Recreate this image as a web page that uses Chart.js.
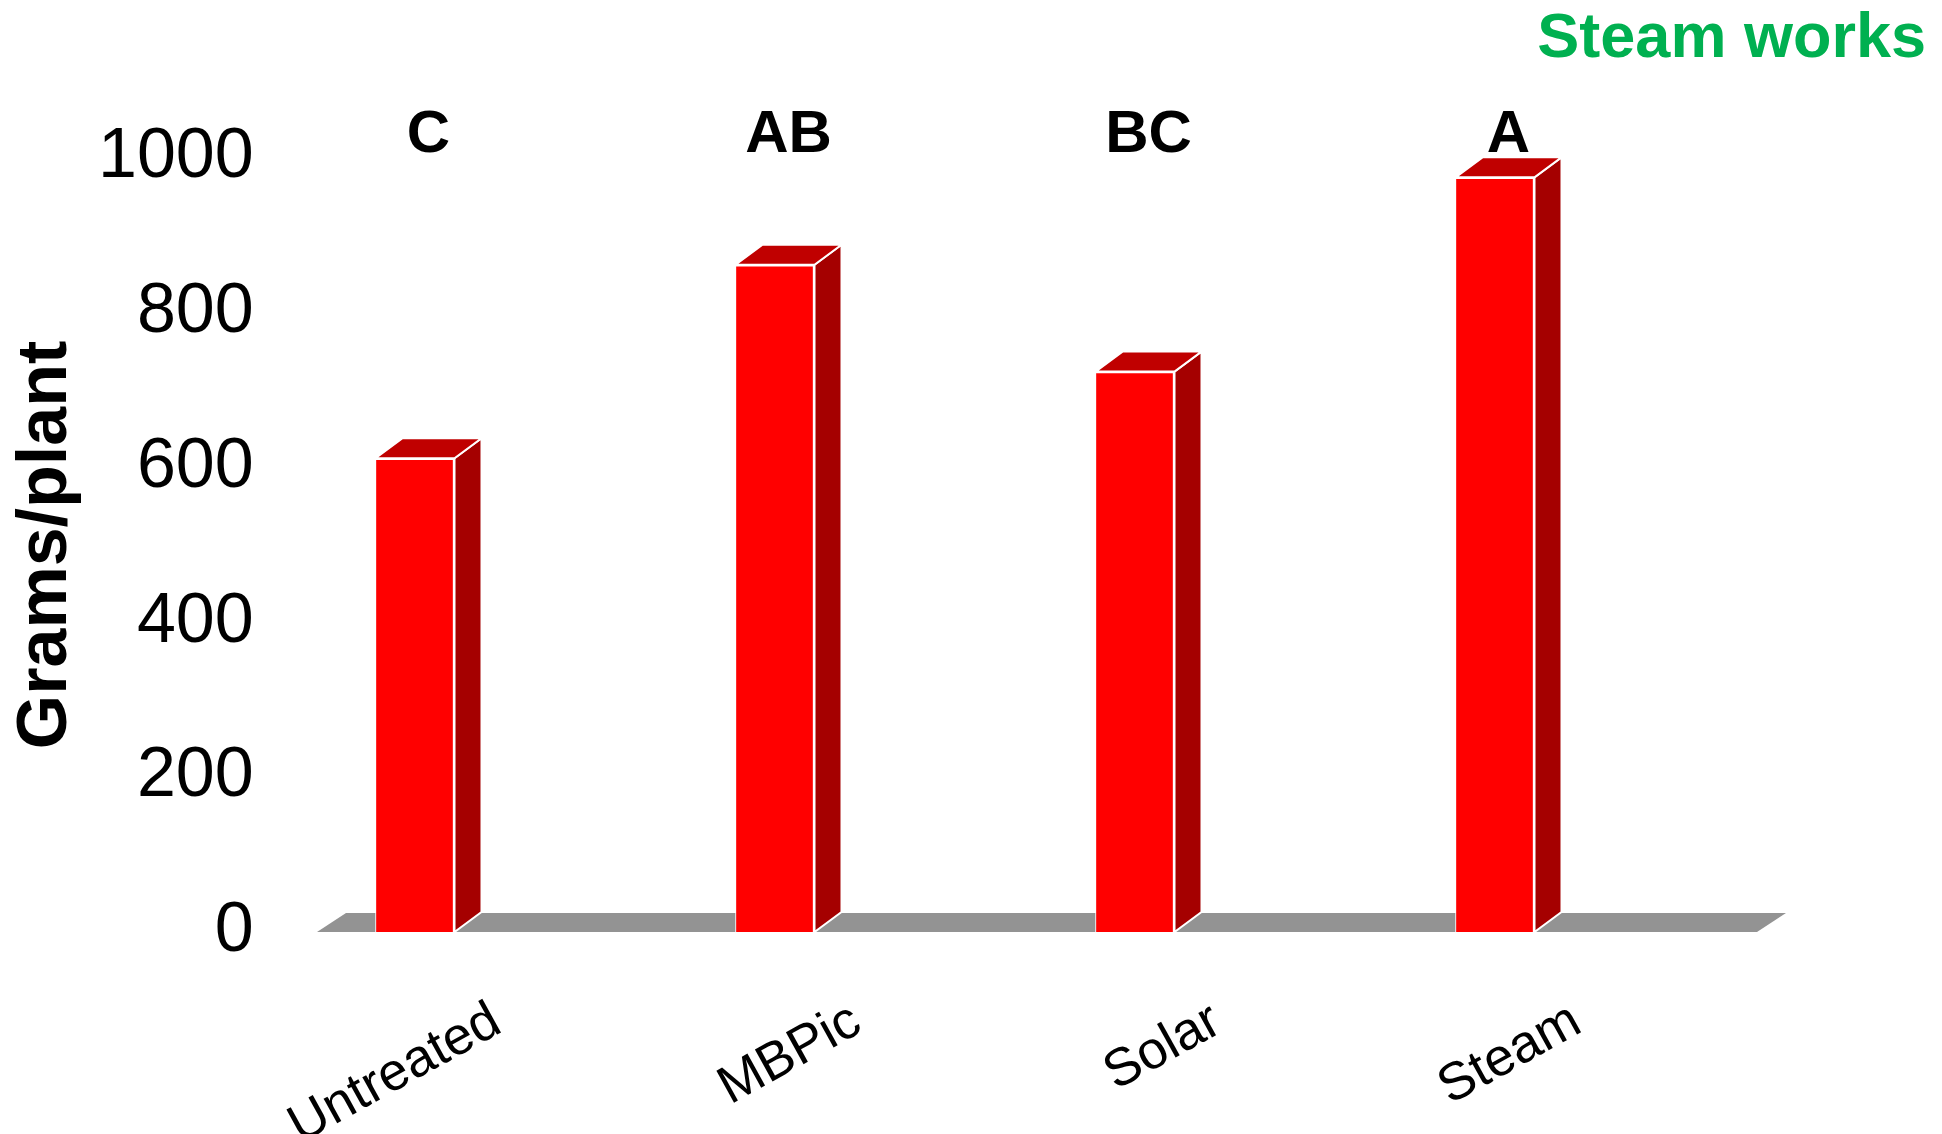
<!DOCTYPE html>
<html>
<head>
<meta charset="utf-8">
<script src="https://cdn.jsdelivr.net/npm/chart.js@4.4.0/dist/chart.umd.min.js"></script>
<style>
  html, body { margin: 0; padding: 0; background: #fff; }
  #wrap { width: 1942px; height: 1134px; }
</style>
</head>
<body>
<div id="wrap"><canvas id="c"></canvas></div>
<script>
// ── data ──
const categories = ['Untreated', 'MBPic', 'Solar', 'Steam'];
const gramsPerPlant = [612, 862, 724, 975];
const letters = ['C', 'AB', 'BC', 'A'];
const yTicks = [0, 200, 400, 600, 800, 1000];

// ── look ──
const FONT = "'Liberation Sans', Arial, sans-serif";
const FRONT = '#FF0000';
const SIDE = '#A50000';
const TOP = '#C00000';
const FLOOR = '#939393';
const DX = 27, DY = 20;            // bar depth
const FLOOR_DX = 29, FLOOR_DY = 19; // floor depth
const SHIFT = 82;                   // floor / labels sit right of the bars

function poly(ctx, pts, fill) {
  ctx.beginPath();
  ctx.moveTo(pts[0][0], pts[0][1]);
  pts.slice(1).forEach(p => ctx.lineTo(p[0], p[1]));
  ctx.closePath();
  ctx.fillStyle = fill;
  ctx.fill();
  ctx.strokeStyle = '#fff';
  ctx.lineWidth = 2;
  ctx.stroke();
}

/** fake 3D: floor, bar sides/tops, letters, green note */
const bar3d = {
  id: 'bar3d',
  beforeDatasetsDraw(chart) {
    const { ctx, chartArea, scales } = chart;
    const base = scales.y.getPixelForValue(0);
    const l = chartArea.left + SHIFT, r = chartArea.right + SHIFT;
    ctx.save();
    ctx.beginPath();
    ctx.moveTo(l, base);
    ctx.lineTo(r, base);
    ctx.lineTo(r + FLOOR_DX, base - FLOOR_DY);
    ctx.lineTo(l + FLOOR_DX, base - FLOOR_DY);
    ctx.closePath();
    ctx.fillStyle = FLOOR;
    ctx.fill();
    ctx.restore();
  },
  afterDatasetsDraw(chart) {
    const { ctx, chartArea } = chart;
    ctx.save();
    chart.getDatasetMeta(0).data.forEach((bar, i) => {
      const { x, y, base, width } = bar.getProps(['x', 'y', 'base', 'width'], true);
      const l = x - width / 2, r = x + width / 2;
      poly(ctx, [[r, y], [r + DX, y - DY], [r + DX, base - DY], [r, base]], SIDE);
      poly(ctx, [[l, y], [r, y], [r + DX, y - DY], [l + DX, y - DY]], TOP);

      ctx.fillStyle = '#000';
      ctx.font = `bold 60px ${FONT}`;
      ctx.textAlign = 'center';
      ctx.textBaseline = 'alphabetic';
      ctx.fillText(letters[i], x + DX / 2, chartArea.top - 6);
    });

    ctx.fillStyle = '#00B050';
    ctx.font = `bold 63px ${FONT}`;
    ctx.textAlign = 'right';
    ctx.fillText('Steam works', chart.width - 16, 57);
    ctx.restore();
  }
};

const ctx = document.getElementById('c').getContext('2d');
new Chart(ctx, {
  type: 'bar',
  data: {
    labels: categories,
    datasets: [{
      label: 'Grams/plant',
      data: gramsPerPlant,
      backgroundColor: FRONT,
      borderColor: '#fff',
      borderWidth: { top: 2, right: 2, left: 1, bottom: 0 },
      borderSkipped: false,
      barThickness: 79
    }]
  },
  options: {
    responsive: true,
    maintainAspectRatio: false,
    animation: false,
    layout: { padding: { top: 158, right: 267, left: 0, bottom: 0 } },
    plugins: {
      legend: { display: false },
      tooltip: { enabled: false }
    },
    scales: {
      x: {
        grid: { display: false, drawTicks: false },
        border: { display: false },
        ticks: {
          color: '#000',
          font: { family: FONT, size: 53 },
          minRotation: 29, maxRotation: 29,
          labelOffset: SHIFT,
          padding: 58
        },
        afterFit: s => { s.height = 202; }
      },
      y: {
        min: 0, max: 1000,
        afterBuildTicks: s => { s.ticks = yTicks.map(v => ({ value: v })); },
        grid: { display: false, drawTicks: false },
        border: { display: false },
        ticks: {
          color: '#000',
          font: { family: FONT, size: 70 },
          // labels overhang the plot a little, right-aligned like the original
          mirror: true,
          crossAlign: 'far',
          padding: -137,
          callback: v => String(v)
        },
        title: {
          display: true,
          text: 'Grams/plant',
          color: '#000',
          font: { family: FONT, size: 70, weight: 'bold', lineHeight: 1 },
          padding: { top: 12, bottom: 0 }
        },
        afterFit: s => { s.width = 235; }
      }
    }
  },
  plugins: [bar3d]
});
</script>
</body>
</html>
